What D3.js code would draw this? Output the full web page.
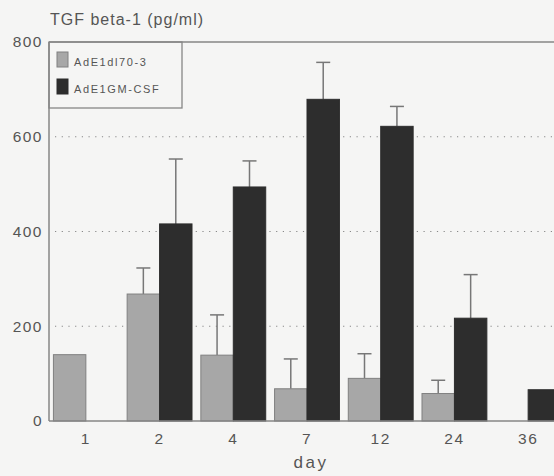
<!DOCTYPE html>
<html>
  <head>
    <title>TGF beta-1</title>
    <script src="https://d3js.org/d3.v7.min.js"></script>
    <style>
      html, body { margin: 0; padding: 0; background: #f5f5f4; overflow: hidden; }
      svg { display: block; }
      text { font-family: "Liberation Sans", Arial, sans-serif; fill: #555; }
    </style>
  </head>
  <body>
    <svg width="554" height="476" id="mainsvg"></svg>
    <script>
        // data
        const days = ['1', '2', '4', '7', '12', '24', '36'];
        const series = ['AdE1dl70-3', 'AdE1GM-CSF'];
        const dl70 = [140, 268, 139, 68, 90, 58, 0];
        const dl70Err = [0, 55, 85, 63, 52, 28, 0];
        const gmcsf = [0, 416, 494, 679, 622, 217, 66];
        const gmcsfErr = [0, 137, 55, 78, 42, 92, 0];
        const yTicks = [0, 200, 400, 600, 800];
        const gridTicks = [200, 400, 600];

        const colors = ['#a7a7a7', '#2d2d2d'];
        const strokes = ['#808080', '#2d2d2d'];

        const svg = d3.select('#mainsvg');
        const width = +svg.attr('width');
        const height = +svg.attr('height');
        const margin = {top: 42, left: 49, right: 0, bottom: 55};
        const innerWidth = width - margin.left - margin.right;   // visible part
        const plotWidth = innerWidth + 11;                          // the scan cuts the plot on the right
        const innerHeight = height - margin.top - margin.bottom;

        svg.append('clipPath').attr('id', 'clip')
          .append('rect').attr('width', innerWidth).attr('height', innerHeight + 2).attr('y', -1);

        const g = svg.append('g').attr('transform', `translate(${margin.left}, ${margin.top})`);

        const xScale = d3.scaleBand().domain(days).range([0, plotWidth])
          .paddingInner(0.12).paddingOuter(0.06);
        const x1 = d3.scaleBand().domain(series).range([0, xScale.bandwidth()]);
        const yScale = d3.scaleLinear().domain([0, 800]).range([innerHeight, 0]);

        // dotted grid
        g.selectAll('.grid').data(gridTicks).join('line')
          .attr('x1', 6).attr('x2', innerWidth)
          .attr('y1', d => yScale(d)).attr('y2', d => yScale(d))
          .attr('stroke', '#888').attr('stroke-width', 1.2)
          .attr('stroke-dasharray', '1.2,5.5');

        const rows = days.map((d, i) => ({day: d, vals: [
          {s: 0, v: dl70[i], e: dl70Err[i]},
          {s: 1, v: gmcsf[i], e: gmcsfErr[i]}
        ]}));

        const groups = g.append('g').attr('clip-path', 'url(#clip)')
          .selectAll('.grp').data(rows).join('g')
          .attr('transform', d => `translate(${xScale(d.day)},0)`);

        const bars = groups.selectAll('g').data(d => d.vals.filter(v => v.v > 0)).join('g');
        const cx = d => x1(series[d.s]) + x1.bandwidth() / 2;

        // error bars (upper only)
        bars.filter(d => d.e > 0).append('line')
          .attr('x1', cx).attr('x2', cx)
          .attr('y1', d => yScale(d.v)).attr('y2', d => yScale(d.v + d.e))
          .attr('stroke', '#777').attr('stroke-width', 1.5);
        bars.filter(d => d.e > 0).append('line')
          .attr('x1', d => cx(d) - 7).attr('x2', d => cx(d) + 7)
          .attr('y1', d => yScale(d.v + d.e)).attr('y2', d => yScale(d.v + d.e))
          .attr('stroke', '#777').attr('stroke-width', 1.5);

        bars.append('rect')
          .attr('x', d => x1(series[d.s]))
          .attr('width', x1.bandwidth())
          .attr('y', d => yScale(d.v))
          .attr('height', d => innerHeight - yScale(d.v))
          .attr('fill', d => colors[d.s])
          .attr('stroke', d => strokes[d.s]).attr('stroke-width', 1);

        // frame: left, top, bottom
        const frame = '#868686';
        g.append('line').attr('x1', 0).attr('x2', 0).attr('y1', 0).attr('y2', innerHeight)
          .attr('stroke', frame).attr('stroke-width', 1.5);
        g.append('line').attr('x1', 0).attr('x2', innerWidth).attr('y1', 0).attr('y2', 0)
          .attr('stroke', frame).attr('stroke-width', 1.5);
        g.append('line').attr('x1', 0).attr('x2', innerWidth).attr('y1', innerHeight).attr('y2', innerHeight)
          .attr('stroke', frame).attr('stroke-width', 1.5);

        // axes (labels only)
        const yAxis = g.append('g').call(d3.axisLeft(yScale).tickValues(yTicks).tickSize(0).tickPadding(6));
        yAxis.select('.domain').remove();
        yAxis.selectAll('text').attr('font-size', 15.5).attr('letter-spacing', 1.5)
          .attr('font-family', null).attr('fill', '#555');

        const xAxis = g.append('g').attr('transform', `translate(0, ${innerHeight})`)
          .call(d3.axisBottom(xScale).tickSize(0).tickPadding(12));
        xAxis.select('.domain').remove();
        xAxis.selectAll('text').attr('font-size', 15.5).attr('letter-spacing', 1.5)
          .attr('font-family', null).attr('fill', '#555');

        // titles
        svg.append('text').text('TGF beta-1 (pg/ml)')
          .attr('x', 50).attr('y', 25)
          .attr('font-size', 16).attr('letter-spacing', 1).attr('fill', '#505050');
        svg.append('text').text('day')
          .attr('text-anchor', 'middle').attr('x', 311).attr('y', 468)
          .attr('font-size', 17).attr('letter-spacing', 2.5).attr('fill', '#505050');

        // legend
        const lg = g.append('g');
        lg.append('rect').attr('x', 0).attr('y', 0).attr('width', 133).attr('height', 66)
          .attr('fill', 'none').attr('stroke', frame).attr('stroke-width', 1.3);
        const items = lg.selectAll('.item').data(series).join('g')
          .attr('transform', (d, i) => `translate(8, ${10 + i * 27})`);
        items.append('rect').attr('width', 11).attr('height', 15)
          .attr('fill', (d, i) => colors[i]).attr('stroke', (d, i) => strokes[i]);
        items.append('text').text(d => d)
          .attr('x', 17).attr('y', 14)
          .attr('font-size', 11).attr('letter-spacing', 1.6).attr('fill', '#555');
    </script>
  </body>
</html>
